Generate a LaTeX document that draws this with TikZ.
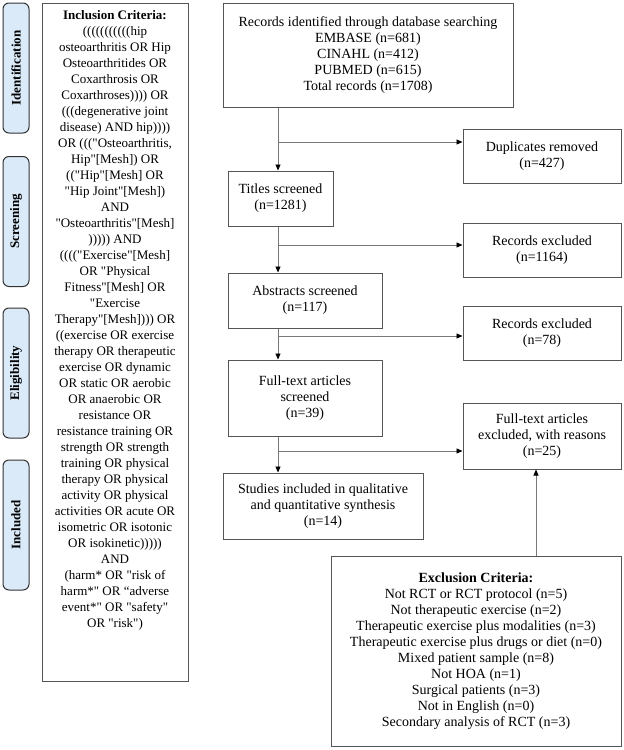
\documentclass[tikz,border=0pt]{standalone}
\usepackage{fontspec}
\setmainfont{Liberation Serif}[Ligatures=TeXOff]
\usetikzlibrary{arrows.meta}
\definecolor{tabblue}{RGB}{218,234,249}
\definecolor{edgegray}{RGB}{85,85,85}
\definecolor{linegray}{RGB}{120,120,120}
\begin{document}
\begin{tikzpicture}[>={Triangle[length=6pt,width=5pt,black]}, font=\fontsize{14}{16}\selectfont, x=1pt, y=-1pt]
      \tikzset{box/.style={draw=edgegray, line width=1pt, align=center, inner sep=2pt},
               tab/.style={draw=black!80, line width=1pt, fill=tabblue, rounded corners=6pt, minimum width=26pt, minimum height=130pt, font=\fontsize{13}{16}\selectfont\bfseries},
               link/.style={draw=linegray, line width=0.9pt, ->}}
      \useasboundingbox (0,0) rectangle (624,750);
      % phase tabs
      \node[tab] (tid) at (16,68) {\rotatebox{90}{Identification}};
      \node[tab] (tsc) at (16,221.5) {\rotatebox{90}{Screening}};
      \node[tab] (tel) at (16,373) {\rotatebox{90}{Eligibility}};
      \node[tab] (tin) at (16,525) {\rotatebox{90}{Included}};
      % search terms
      \node[box, inner sep=0pt, anchor=north, font=\fontsize{13}{16}\selectfont] (crin) at (115,3) {\parbox[t][678pt][t]{146pt}{\centering\vspace*{7pt}%
        \textbf{Inclusion Criteria:}\\
        (((((((((((hip\\
        osteoarthritis OR Hip\\
        Osteoarthritides OR\\
        Coxarthrosis OR\\
        Coxarthroses)))) OR\\
        (((degenerative joint\\
        disease) AND hip))))\\
        OR ((("Osteoarthritis,\\
        Hip"[Mesh]) OR\\
        (("Hip"[Mesh] OR\\
        "Hip Joint"[Mesh])\\
        AND\\
        "Osteoarthritis"[Mesh]\\
        ))))) AND\\
        (((("Exercise"[Mesh]\\
        OR "Physical\\
        Fitness"[Mesh] OR\\
        "Exercise\\
        Therapy"[Mesh]))) OR\\
        ((exercise OR exercise\\
        therapy OR therapeutic\\
        exercise OR dynamic\\
        OR static OR aerobic\\
        OR anaerobic OR\\
        resistance OR\\
        resistance training OR\\
        strength OR strength\\
        training OR physical\\
        therapy OR physical\\
        activity OR physical\\
        activities OR acute OR\\
        isometric OR isotonic\\
        OR isokinetic)))))\\
        AND\\
        (harm* OR "risk of\\
        harm*" OR “adverse\\
        event*" OR "safety"\\
        OR "risk")}};
      % flow
      \node[box, minimum width=290pt, minimum height=104pt] (rec) at (368,55) {Records identified through database searching\\EMBASE (n=681)\\CINAHL (n=412)\\PUBMED (n=615)\\Total records (n=1708)};
      \node[box, minimum width=158pt, minimum height=54pt] (dup) at (542,156) {Duplicates removed\\(n=427)};
      \node[box, minimum width=105pt, minimum height=55pt] (tit) at (280.5,198.5) {Titles screened\\(n=1281)};
      \node[box, minimum width=158pt, minimum height=54pt] (ex1) at (542,250) {Records excluded\\(n=1164)};
      \node[box, minimum width=154pt, minimum height=55pt] (abs) at (305,300.5) {Abstracts screened\\(n=117)};
      \node[box, minimum width=158pt, minimum height=54pt] (ex2) at (542,333) {Records excluded\\(n=78)};
      \node[box, minimum width=154pt, minimum height=76pt] (ful) at (305,398) {Full-text articles\\screened\\(n=39)};
      \node[box, minimum width=158pt, minimum height=66pt] (ex3) at (542,436) {Full-text articles\\excluded, with reasons\\(n=25)};
      \node[box, minimum width=200pt, minimum height=66pt] (stu) at (323,506) {Studies included in qualitative\\and quantitative synthesis\\(n=14)};
      \node[box, minimum width=290pt, minimum height=190pt] (crex) at (476,651) {\textbf{Exclusion Criteria:}\\Not RCT or RCT protocol (n=5)\\Not therapeutic exercise (n=2)\\Therapeutic exercise plus modalities (n=3)\\Therapeutic exercise plus drugs or diet (n=0)\\Mixed patient sample (n=8)\\Not HOA (n=1)\\Surgical patients (n=3)\\Not in English (n=0)\\Secondary analysis of RCT (n=3)};
      \coordinate (spine) at (278,0);
      \coordinate (up) at (536,0);
      \coordinate (b1) at (278,142);
      \coordinate (b2) at (278,245);
      \coordinate (b3) at (278,336);
      \coordinate (b4) at (278,451);
      \draw[link] (rec.south -| spine) -- (tit.north -| spine);
      \draw[link] (tit.south -| spine) -- (abs.north -| spine);
      \draw[link] (abs.south -| spine) -- (ful.north -| spine);
      \draw[link] (ful.south -| spine) -- (stu.north -| spine);
      \draw[link] (b1) -- (b1 -| dup.west);
      \draw[link] (b2) -- (b2 -| ex1.west);
      \draw[link] (b3) -- (b3 -| ex2.west);
      \draw[link] (b4) -- (b4 -| ex3.west);
      \draw[link] (crex.north -| up) -- (ex3.south -| up);
    \end{tikzpicture}
\end{document}
